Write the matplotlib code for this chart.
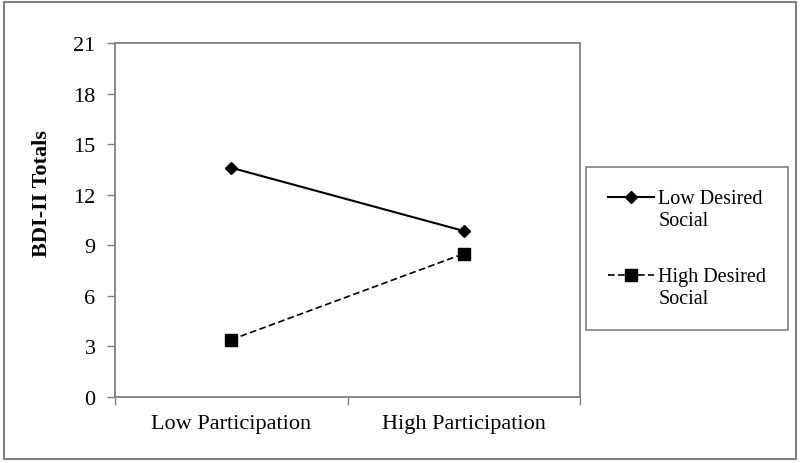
import numpy as np
import matplotlib
matplotlib.use('Agg')
import matplotlib.pyplot as plt
from matplotlib.patches import Rectangle
from matplotlib.legend_handler import HandlerLine2D

plt.rcParams['font.family'] = ['Liberation Serif', 'DejaVu Serif']

# data
categories = ['Low Participation', 'High Participation']
low_desired = [13.6, 9.85]
high_desired = [3.4, 8.5]
series_names = ['Low Desired\nSocial', 'High Desired\nSocial']
y_ticks = [0, 3, 6, 9, 12, 15, 18, 21]

gray = '#808080'


# legend handler that puts the marker next to the first line of the label
class FirstLineHandler(HandlerLine2D):
    def create_artists(self, legend, orig_handle, xdescent, ydescent,
                       width, height, fontsize, trans):
        artists = super().create_artists(legend, orig_handle, xdescent, ydescent,
                                         width, height, fontsize, trans)
        for a in artists:
            a.set_ydata(np.asarray(a.get_ydata()) + 0.6 * fontsize)
        return artists


fig = plt.figure(figsize=(8, 4.64), dpi=100)
ax = fig.add_axes([115 / 800, 1 - 398 / 464, (580 - 115) / 800, (398 - 44) / 464])

x = np.arange(len(categories))
l1, = ax.plot(x, low_desired, color='black', linewidth=1.5, linestyle='-',
              marker='D', markersize=6.5, label=series_names[0])
l2, = ax.plot(x, high_desired, color='black', linewidth=1.2, linestyle=(0, (4, 2)),
              marker='s', markersize=8.5, label=series_names[1])

ax.set_xlim(-0.5, 1.5)
ax.set_ylim(0, 21)
ax.set_yticks(y_ticks)
ax.set_xticks(x)
ax.set_xticklabels(categories)
ax.set_xticks([-0.5, 0.5, 1.5], minor=True)

ax.tick_params(axis='y', direction='out', length=6, width=1, color=gray,
               labelsize=16, pad=8)
ax.tick_params(axis='x', which='major', length=0, labelsize=16, pad=12)
ax.tick_params(axis='x', which='minor', direction='out', length=6, width=1, color=gray)

for sp in ax.spines.values():
    sp.set_color(gray)
    sp.set_linewidth(1.3)

ax.set_ylabel('BDI-II Totals', fontsize=16, fontweight='bold')
ax.yaxis.set_label_coords(-0.135, 0.577)

leg = fig.legend(handles=[l1, l2], loc='center',
                 bbox_to_anchor=(687 / 800, 1 - 249.5 / 464),
                 fontsize=14.5, frameon=True, fancybox=False, shadow=False,
                 framealpha=1, edgecolor=gray, numpoints=1,
                 handlelength=2.3, handletextpad=0.2, labelspacing=1.85,
                 borderpad=1.08,
                 handler_map={l1: FirstLineHandler(), l2: FirstLineHandler()})
leg.get_frame().set_linewidth(1.2)

# outer border around the whole figure
fig.patches.append(Rectangle((4 / 800, 1 - 460 / 464), 792 / 800, 457 / 464,
                             transform=fig.transFigure, fill=False,
                             edgecolor=gray, linewidth=1.5))

fig.savefig('out.png', dpi=100)
